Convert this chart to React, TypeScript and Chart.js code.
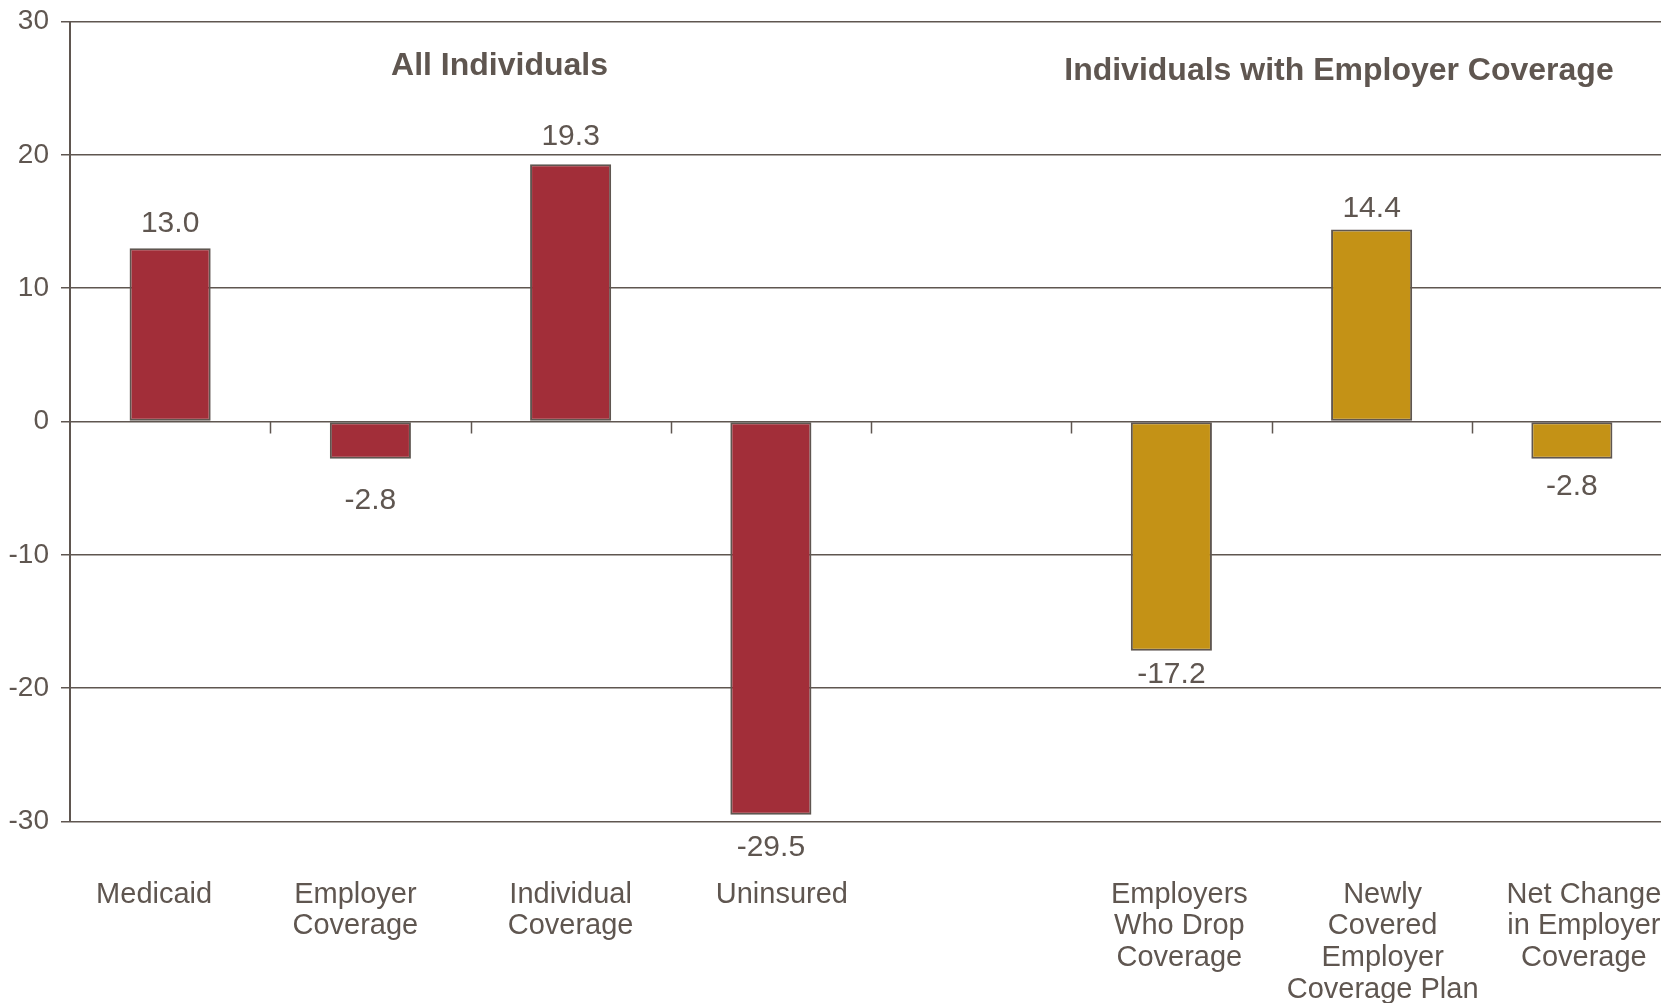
import { useEffect, useRef } from "react";
import { Chart, registerables } from "chart.js";

Chart.register(...registerables);

// Categories along the x axis (index 4 is a spacer between the two groups)
const categories: (string | string[])[] = [
  "Medicaid",
  ["Employer", "Coverage"],
  ["Individual", "Coverage"],
  "Uninsured",
  "",
  ["Employers", "Who Drop", "Coverage"],
  ["Newly", "Covered", "Employer", "Coverage Plan"],
  ["Net Change", "in Employer", "Coverage"],
];

// Change in coverage (millions)
const allIndividuals: (number | null)[] = [13.0, -2.8, 19.3, -29.5, null, null, null, null];
const employerCoverage: (number | null)[] = [null, null, null, null, null, -17.2, 14.4, -2.8];

const yMin = -30;
const yMax = 30;
const yStep = 10;

const groupTitles = ["All Individuals", "Individuals with Employer Coverage"];

const TEXT = "#5f5650";
const RED = "#a22e39";
const GOLD = "#c49216";
const FONT = "'Liberation Sans', Arial, sans-serif";

// Hand-placed horizontal shifts of the category captions (px)
const captionShift = [-16, -15, 0, 11, 0, 8, 11, 12];
// Hand-placed vertical shifts of the value captions (px, positive = down)
const valueShift = [-1, 12, -3.5, 2.5, 0, -6, 3, -2];

// Values printed above / below each bar
const valueLabels = {
  id: "valueLabels",
  afterDatasetsDraw(chart: any) {
    const ctx = chart.ctx;
    ctx.save();
    ctx.fillStyle = TEXT;
    ctx.font = `30px ${FONT}`;
    ctx.textAlign = "center";
    ctx.textBaseline = "alphabetic";
    chart.data.datasets.forEach((ds: any, di: number) => {
      const meta = chart.getDatasetMeta(di);
      meta.data.forEach((el: any, i: number) => {
        const v = ds.data[i];
        if (v === null || v === undefined) return;
        const y = (v >= 0 ? el.y - 15.5 : el.y + 38.5) + valueShift[i];
        ctx.fillText(v.toFixed(1), el.x, y);
      });
    });
    ctx.restore();
  },
};

// Zero-line tick marks, category captions and group headings
const annotations = {
  id: "annotations",
  afterDraw(chart: any) {
    const ctx = chart.ctx;
    const xs = chart.scales.x;
    const ys = chart.scales.y;
    const y0 = ys.getPixelForValue(0);
    ctx.save();
    ctx.strokeStyle = TEXT;
    ctx.lineWidth = 1.5;
    for (let i = 1; i < categories.length; i++) {
      const x = Math.round((xs.getPixelForValue(i - 1) + xs.getPixelForValue(i)) / 2) + 0.5;
      ctx.beginPath();
      ctx.moveTo(x, y0);
      ctx.lineTo(x, y0 + 12);
      ctx.stroke();
    }

    ctx.fillStyle = TEXT;
    ctx.font = `29px ${FONT}`;
    ctx.textAlign = "center";
    ctx.textBaseline = "middle";
    const top = chart.chartArea.bottom + 73;
    categories.forEach((label, i) => {
      const lines = Array.isArray(label) ? label : [label];
      const x = xs.getPixelForValue(i) + captionShift[i];
      lines.forEach((line, k) => ctx.fillText(line, x, top + k * 31.8));
    });

    ctx.font = `bold 32px ${FONT}`;
    ctx.textBaseline = "alphabetic";
    ctx.fillText(groupTitles[0], xs.getPixelForValue(1.645), ys.getPixelForValue(25.97));
    ctx.fillText(groupTitles[1], xs.getPixelForValue(5.837), ys.getPixelForValue(25.65));
    ctx.restore();
  },
};

export default function App() {
  const canvasRef = useRef<HTMLCanvasElement | null>(null);

  useEffect(() => {
    if (!canvasRef.current) return;
    const chart = new Chart(canvasRef.current, {
      type: "bar",
      data: {
        labels: categories as any,
        datasets: [
          {
            label: groupTitles[0],
            data: allIndividuals,
            backgroundColor: RED,
            borderColor: TEXT,
            borderWidth: 2,
            borderSkipped: false,
            grouped: false,
            categoryPercentage: 1,
            barPercentage: 0.405,
          },
          {
            label: groupTitles[1],
            data: employerCoverage,
            backgroundColor: GOLD,
            borderColor: TEXT,
            borderWidth: 2,
            borderSkipped: false,
            grouped: false,
            categoryPercentage: 1,
            barPercentage: 0.405,
          },
        ],
      },
      options: {
        responsive: false,
        animation: false,
        layout: { padding: { top: 21.5, right: 28, left: 0, bottom: 0 } },
        plugins: {
          legend: { display: false },
          tooltip: { enabled: false },
          title: { display: false },
        },
        scales: {
          x: {
            grid: { display: false, drawTicks: false },
            border: { display: false },
            ticks: { display: false },
            afterFit(scale: any) {
              scale.height = 181.5;
              scale.paddingLeft = 0;
              scale.paddingRight = 0;
            },
          },
          y: {
            min: yMin,
            max: yMax,
            grid: { color: TEXT, lineWidth: 1.5, tickLength: 9 },
            border: { display: true, color: TEXT, width: 2 },
            ticks: {
              stepSize: yStep,
              color: TEXT,
              font: { family: FONT, size: 28 },
              padding: 12,
            },
            afterFit(scale: any) {
              scale.width = 70;
              scale.paddingTop = 0;
              scale.paddingBottom = 0;
            },
          },
        },
      },
      plugins: [valueLabels, annotations],
    });
    return () => chart.destroy();
  }, []);

  return (
    <div
      style={{
        position: "fixed",
        left: 0,
        top: 0,
        width: 1661,
        height: 1003,
        overflow: "hidden",
        background: "#ffffff",
      }}
    >
      <canvas ref={canvasRef} width={1700} height={1003} style={{ display: "block" }} />
    </div>
  );
}
